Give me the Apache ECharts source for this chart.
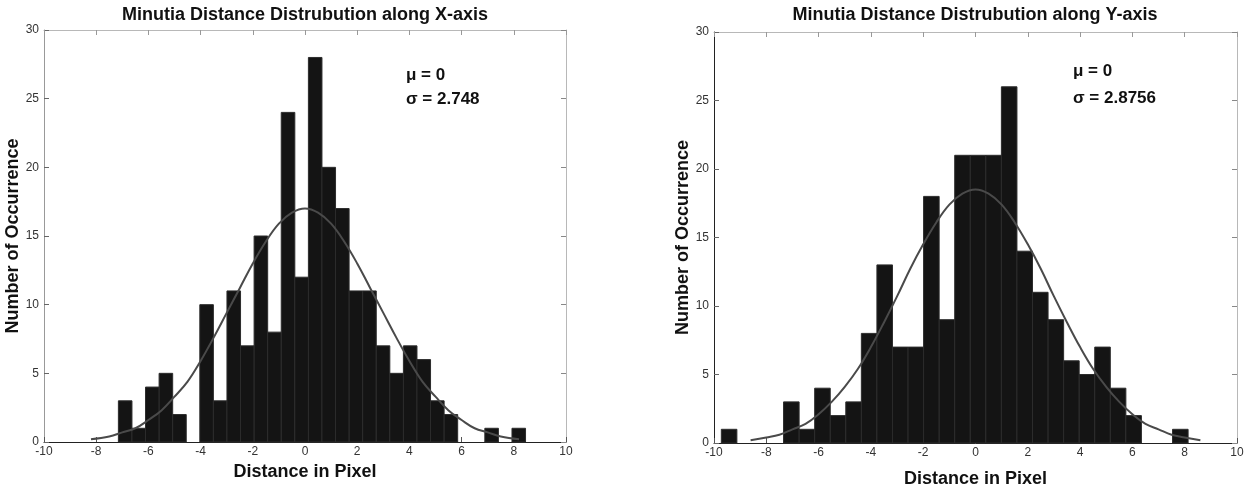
<!DOCTYPE html>
<html>
<head>
<meta charset="utf-8">
<script src="https://cdn.jsdelivr.net/npm/echarts@6/dist/echarts.min.js"></script>
<style>
html,body{margin:0;padding:0;background:#fff;}
#chart{width:1255px;height:496px;}
</style>
</head>
<body>
<div id="chart"></div>
<script>
// ---- data ----
const xTicks = { min: -10, max: 10, interval: 2 };
const yTicks = { min: 0, max: 30, interval: 5 };

// Left chart: histogram along X-axis (30 bins)
const leftBinStart = -7.15;
const leftBinWidth = 0.52;
const leftCounts = [3, 1, 4, 5, 2, 0, 10, 3, 11, 7, 15, 8, 24, 12, 28, 20, 17, 11, 11, 7, 5, 7, 6, 3, 2, 0, 0, 1, 0, 1];
const leftCurveX = [-8.2, -7.5, -7, -6.5, -6, -5.5, -5, -4.5, -4, -3.5, -3, -2.5, -2, -1.5, -1, -0.5, 0, 0.5, 1, 1.5, 2, 2.5, 3, 3.5, 4, 4.5, 5, 5.5, 6, 6.5, 7, 7.5, 8.2];
const leftCurveY = [0.2, 0.4, 0.7, 1.0, 1.6, 2.3, 3.3, 4.4, 5.9, 7.6, 9.4, 11.2, 13.0, 14.6, 15.9, 16.7, 17.0, 16.7, 15.9, 14.6, 13.0, 11.2, 9.4, 7.6, 5.9, 4.4, 3.3, 2.3, 1.6, 1.0, 0.7, 0.4, 0.2];

// Right chart: histogram along Y-axis (30 bins)
const rightBinStart = -9.72;
const rightBinWidth = 0.595;
const rightCounts = [1, 0, 0, 0, 3, 1, 4, 2, 3, 8, 13, 7, 7, 18, 9, 21, 21, 21, 26, 14, 11, 9, 6, 5, 7, 4, 2, 0, 0, 1];
const rightCurveX = [-8.6, -8, -7.5, -7, -6.5, -6, -5.5, -5, -4.5, -4, -3.5, -3, -2.5, -2, -1.5, -1, -0.5, 0, 0.5, 1, 1.5, 2, 2.5, 3, 3.5, 4, 4.5, 5, 5.5, 6, 6.5, 7, 7.5, 8, 8.6];
const rightCurveY = [0.2, 0.4, 0.6, 1.0, 1.4, 2.1, 3.0, 4.1, 5.4, 7.0, 8.8, 10.7, 12.7, 14.5, 16.1, 17.4, 18.2, 18.5, 18.2, 17.4, 16.1, 14.5, 12.7, 10.7, 8.8, 7.0, 5.4, 4.1, 3.0, 2.1, 1.4, 1.0, 0.6, 0.4, 0.2];

const titles = ['Minutia Distance Distrubution along X-axis', 'Minutia Distance Distrubution along Y-axis'];
const xName = 'Distance in Pixel';
const yName = 'Number of Occurrence';
const leftStats = ['\u03bc = 0', '\u03c3 = 2.748'];
const rightStats = ['\u03bc = 0', '\u03c3 = 2.8756'];

// ---- build ----
const FONT = '"Liberation Sans", Arial, Helvetica, sans-serif';
function bins(start, w, counts) {
  const out = [];
  counts.forEach((c, i) => { if (c > 0) out.push([start + i * w, start + (i + 1) * w, c]); });
  return out;
}
function pairs(xs, ys) { return xs.map((x, i) => [x, ys[i]]); }

function renderBar(params, api) {
  const p0 = api.coord([api.value(0), api.value(2)]);
  const p1 = api.coord([api.value(1), 0]);
  return {
    type: 'rect',
    shape: { x: p0[0], y: p0[1], width: p1[0] - p0[0], height: p1[1] - p0[1] },
    style: { fill: '#141414', stroke: '#2c2c2c', lineWidth: 1 }
  };
}

function bottomAxis(gi, gap, lineColor) {
  return {
    type: 'value', gridIndex: gi, position: 'bottom',
    min: xTicks.min, max: xTicks.max, interval: xTicks.interval,
    name: xName, nameLocation: 'middle', nameGap: gap,
    nameTextStyle: { fontSize: 18, fontWeight: 'bold', color: '#111', fontFamily: FONT },
    axisLine: { show: true, onZero: false, lineStyle: { color: lineColor, width: 1 } },
    axisTick: { show: true, inside: true, length: 5, lineStyle: { color: '#555' } },
    axisLabel: { fontSize: 12, color: '#333', margin: 4, fontFamily: FONT },
    splitLine: { show: false }
  };
}
function topAxis(gi) {
  return {
    type: 'value', gridIndex: gi, position: 'top',
    min: xTicks.min, max: xTicks.max, interval: xTicks.interval,
    axisLine: { show: true, onZero: false, lineStyle: { color: '#b8b8b8', width: 1 } },
    axisTick: { show: true, inside: true, length: 5, lineStyle: { color: '#999' } },
    axisLabel: { show: false }, splitLine: { show: false }
  };
}
function leftAxis(gi, gap, lineColor) {
  return {
    type: 'value', gridIndex: gi, position: 'left',
    min: yTicks.min, max: yTicks.max, interval: yTicks.interval,
    name: yName, nameLocation: 'middle', nameGap: gap,
    nameTextStyle: { fontSize: 18, fontWeight: 'bold', color: '#111', fontFamily: FONT },
    axisLine: { show: true, onZero: false, lineStyle: { color: lineColor, width: 1 } },
    axisTick: { show: true, inside: true, length: 5, lineStyle: { color: '#666' } },
    axisLabel: { fontSize: 12, color: '#333', margin: 5, fontFamily: FONT },
    splitLine: { show: false }
  };
}
function rightAxis(gi) {
  return {
    type: 'value', gridIndex: gi, position: 'right',
    min: yTicks.min, max: yTicks.max, interval: yTicks.interval,
    axisLine: { show: true, onZero: false, lineStyle: { color: '#b8b8b8', width: 1 } },
    axisTick: { show: true, inside: true, length: 5, lineStyle: { color: '#888' } },
    axisLabel: { show: false }, splitLine: { show: false }
  };
}
function txt(x, y, text, size, align) {
  return {
    type: 'text', x: x, y: y, z: 100,
    style: { text: text, fontSize: size, fontWeight: 'bold', fontFamily: FONT, fill: '#111', align: align, verticalAlign: 'middle' }
  };
}

const option = {
  animation: false,
  backgroundColor: '#fff',
  grid: [
    { left: 44, top: 30, width: 522, height: 412 },
    { left: 714, top: 32, width: 523, height: 411 }
  ],
  xAxis: [bottomAxis(0, 16, '#222'), topAxis(0), bottomAxis(1, 27, '#222'), topAxis(1)],
  yAxis: [leftAxis(0, 19, '#999'), rightAxis(0), leftAxis(1, 17, '#222'), rightAxis(1)],
  series: [
    { type: 'custom', xAxisIndex: 0, yAxisIndex: 0, renderItem: renderBar, encode: { x: [0, 1], y: 2 },
      data: bins(leftBinStart, leftBinWidth, leftCounts), z: 2 },
    { type: 'line', xAxisIndex: 0, yAxisIndex: 0, data: pairs(leftCurveX, leftCurveY), smooth: 0.4,
      showSymbol: false, lineStyle: { color: '#4a4a4a', width: 2 }, z: 3 },
    { type: 'custom', xAxisIndex: 2, yAxisIndex: 2, renderItem: renderBar, encode: { x: [0, 1], y: 2 },
      data: bins(rightBinStart, rightBinWidth, rightCounts), z: 2 },
    { type: 'line', xAxisIndex: 2, yAxisIndex: 2, data: pairs(rightCurveX, rightCurveY), smooth: 0.4,
      showSymbol: false, lineStyle: { color: '#4a4a4a', width: 2 }, z: 3 }
  ],
  graphic: [
    txt(305, 15, titles[0], 18, 'center'),
    txt(975, 15, titles[1], 18, 'center'),
    txt(406, 75, leftStats[0], 17, 'left'),
    txt(406, 99, leftStats[1], 17, 'left'),
    txt(1073, 71, rightStats[0], 17, 'left'),
    txt(1073, 98, rightStats[1], 17, 'left')
  ]
};

const chart = echarts.init(document.getElementById('chart'), null, { renderer: 'canvas' });
chart.setOption(option);
</script>
</body>
</html>
